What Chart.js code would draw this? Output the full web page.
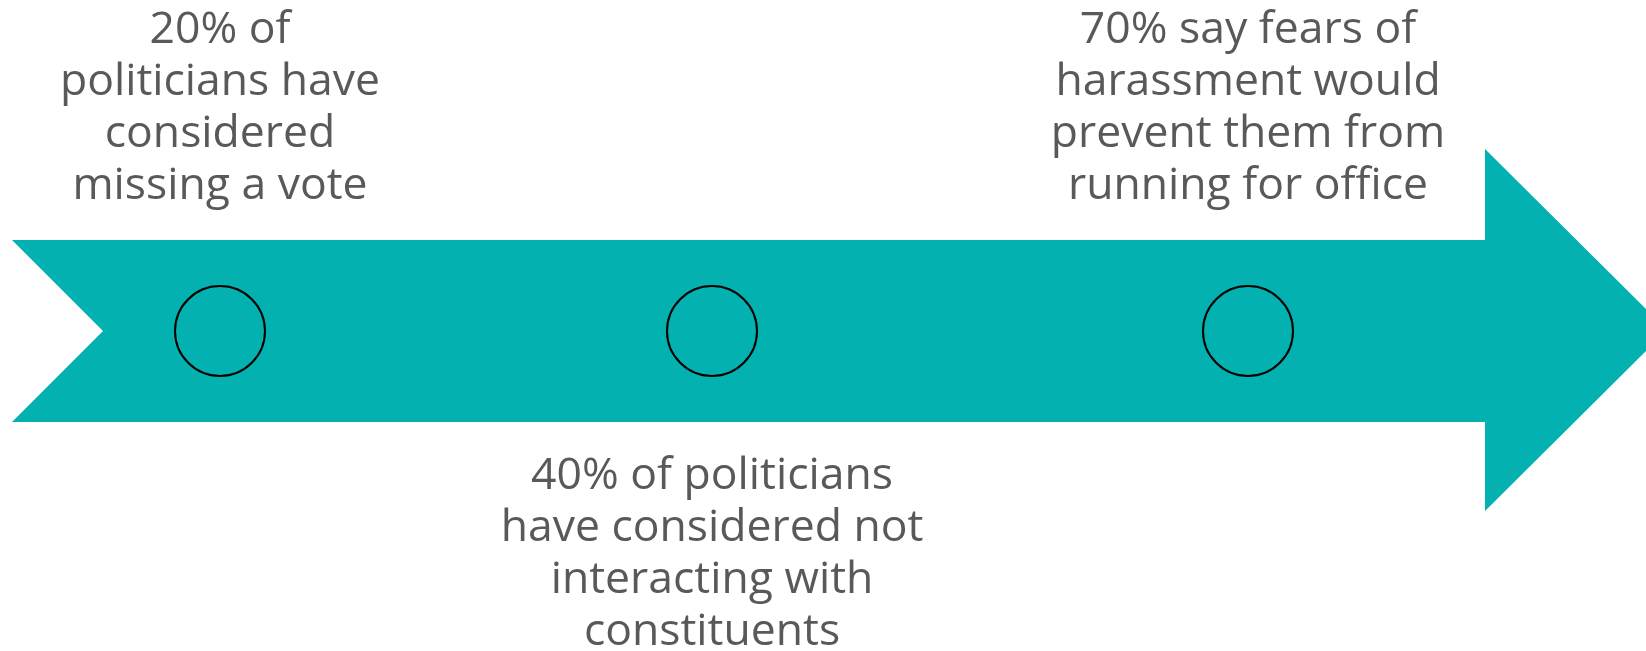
<!DOCTYPE html>
<html>
<head>
<meta charset="utf-8">
<script src="https://cdn.jsdelivr.net/npm/chart.js@4.4.1/dist/chart.umd.min.js"></script>
<style>
  html, body { margin: 0; padding: 0; background: #fff; }
  #wrap { width: 1646px; height: 651px; }
</style>
</head>
<body>
<div id="wrap"><canvas id="timelineChart"></canvas></div>
<script>
/*------------------------------------
* Data
------------------------------------ */
var statPercent = [20, 40, 70];
var statLines = [
  ["20% of", "politicians have", "considered", "missing a vote"],
  ["40% of politicians", "have considered not", "interacting with", "constituents"],
  ["70% say fears of", "harassment would", "prevent them from", "running for office"]
];
// where each milestone sits along the arrow (timeline units = px of the original)
var markerX = [220, 712, 1248];
var markerY = 331;
// text above (-1) or below (+1) the arrow
var statSide = [-1, 1, -1];

// arrow outline, clockwise from the top-left corner (tip runs past the right edge)
var arrowX = [12, 1485, 1485, 1667, 1485, 1485, 12, 103, 12];
var arrowY = [240, 240, 149, 330, 511, 422, 422, 331, 240];

var arrowPts = arrowX.map(function (x, i) { return { x: x, y: arrowY[i] }; });
var markerPts = markerX.map(function (x) { return { x: x, y: markerY }; });

/*------------------------------------
* Text labels plugin
------------------------------------ */
var statText = {
  id: "statText",
  afterDatasetsDraw: function (chart) {
    var ctx = chart.ctx;
    var xs = chart.scales.x, ys = chart.scales.y;
    ctx.save();
    ctx.font = "44.5px 'Open Sans'";
    ctx.fillStyle = "#595959";
    ctx.textAlign = "center";
    ctx.textBaseline = "alphabetic";
    statLines.forEach(function (lines, i) {
      var cx = xs.getPixelForValue(markerX[i]);
      var first = statSide[i] < 0 ? 43 : 489;
      lines.forEach(function (t, k) {
        ctx.fillText(t, cx, ys.getPixelForValue(first + k * 52));
      });
    });
    ctx.restore();
  }
};

var ChartT = new Chart(document.getElementById("timelineChart"), {
  type: "scatter",
  data: {
    datasets: [
      {
        label: "Milestones",
        data: markerPts,
        pointRadius: 45,
        pointHoverRadius: 45,
        pointBackgroundColor: "rgba(0,0,0,0)",
        pointBorderColor: "#000",
        pointBorderWidth: 2,
        clip: false,
        order: 0,
      },
      {
        label: "Arrow",
        type: "line",
        data: arrowPts,
        showLine: true,
        fill: "shape",
        backgroundColor: "#02B1B0",
        borderColor: "#02B1B0",
        borderWidth: 0,
        pointRadius: 0,
        tension: 0,
        clip: false,
        order: 1,
      },
    ],
  },
  options: {
    responsive: true,
    maintainAspectRatio: false,
    animation: false,
    layout: { padding: 0, autoPadding: false },
    plugins: { legend: { display: false }, tooltip: { enabled: false } },
    scales: {
      x: { type: "linear", min: 0, max: 1646, display: false },
      y: { type: "linear", min: 0, max: 651, reverse: true, display: false },
    },
  },
  plugins: [statText],
});
</script>
</body>
</html>
